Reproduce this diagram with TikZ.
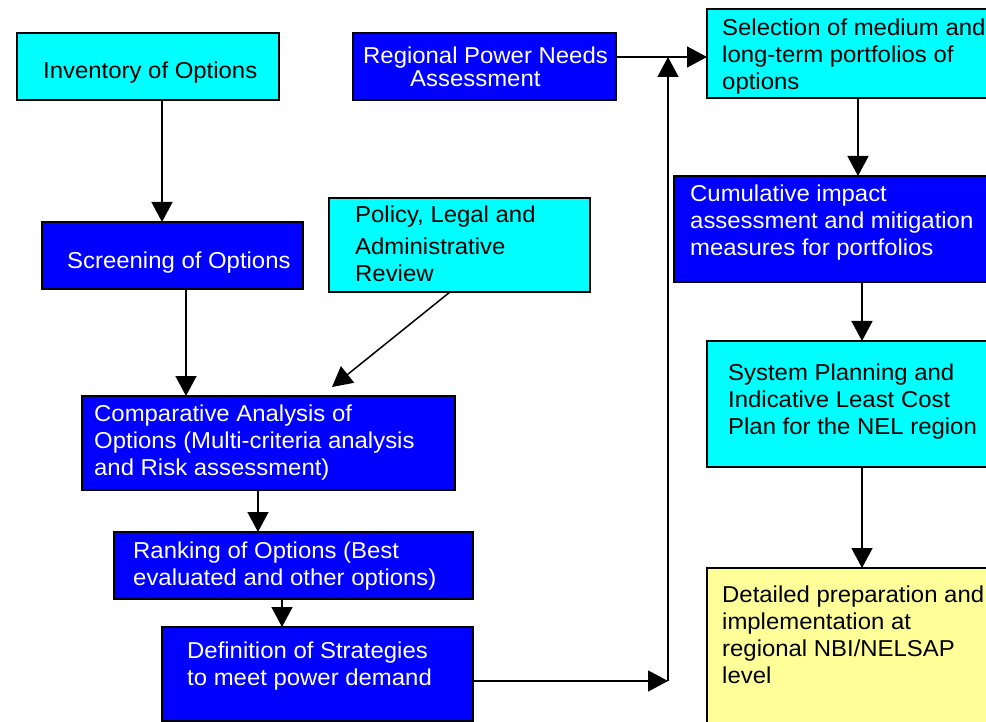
\documentclass[tikz,border=0pt]{standalone}
\usepackage{fontspec}
\setmainfont{Liberation Sans}[FakeStretch=1.04]
\usetikzlibrary{arrows.meta}
\definecolor{cyanbox}{RGB}{0,255,255}
\definecolor{bluebox}{RGB}{0,0,255}
\definecolor{yellowbox}{RGB}{255,255,153}
\begin{document}
\begin{tikzpicture}[x=1pt,y=-1pt,
 box/.style={draw=black,line width=2pt,inner sep=0pt,outer sep=0pt},
 cbox/.style={box,fill=cyanbox},
 bbox/.style={box,fill=bluebox},
 ybox/.style={box,fill=yellowbox},
 txt/.style={inner sep=0pt,anchor=north west,align=left,font=\fontsize{23}{27}\selectfont},
 wtxt/.style={txt,text=white},
 arr/.style={line width=1.5pt,-{Triangle[width=21pt,length=20pt]}}]
\useasboundingbox (0,0) rectangle (986,722);
\clip (0,0) rectangle (986,722);
\fill[white] (0,0) rectangle (986,722);

% boxes
\node[cbox,minimum width=262pt,minimum height=67pt] (inv) at (148,66.5) {};
\node[bbox,minimum width=261pt,minimum height=67pt] (scr) at (172.5,255.5) {};
\node[cbox,minimum width=261pt,minimum height=94pt] (pol) at (459.5,245) {};
\node[bbox,minimum width=373pt,minimum height=94pt] (cmp) at (268.5,443) {};
\node[bbox,minimum width=359pt,minimum height=67pt] (rank) at (293.5,565.5) {};
\node[bbox,minimum width=311pt,minimum height=94pt] (def) at (317.5,674) {};
\node[bbox,minimum width=263pt,minimum height=67pt] (reg) at (484.5,66.5) {};
\node[cbox,minimum width=293pt,minimum height=89pt] (sel) at (853.5,53.5) {};
\node[bbox,minimum width=326pt,minimum height=106pt] (cum) at (837,229) {};
\node[cbox,minimum width=293pt,minimum height=126pt] (sys) at (853.5,404) {};
\node[ybox,minimum width=293pt,minimum height=172pt] (det) at (853.5,654) {};

% texts
\node[txt] (tinv) at (43,59.1) {\strut Inventory of Options};
\node[wtxt] (tscr) at (67,249.1) {\strut Screening of Options};
\node[txt] (tpol) at (355,203.1) {\strut Policy, Legal and\\[5pt]Administrative\\Review};
\node[wtxt] (tcmp) at (94,402.1) {\strut Comparative Analysis of\\Options (Multi-criteria analysis\\and Risk assessment)};
\node[wtxt] (trank) at (133,539.1) {\strut Ranking of Options (Best\\evaluated and other options)};
\node[wtxt] (tdef) at (187,639.1) {\strut Definition of Strategies\\to meet power demand};
\node[wtxt] (treg) at (363,44.1) {\strut Regional Power Needs\\[-4pt]\hspace*{47pt}Assessment};
\node[txt] (tsel) at (722,16.1) {\strut Selection of medium and\\long-term portfolios of\\options};
\node[wtxt] (tcum) at (690,182.1) {\strut Cumulative impact\\assessment and mitigation\\measures for portfolios};
\node[txt] (tsys) at (728,361.1) {\strut System Planning and\\Indicative Least Cost\\Plan for the NEL region};
\node[txt] (tdet) at (722,583.1) {\strut Detailed preparation and\\implementation at\\regional NBI/NELSAP\\level};

% junctions
\coordinate (jtop) at (668,57);
\coordinate (jbot) at (668,681);

% connectors
\draw[arr] ([xshift=14pt]inv.south) -- ([xshift=-10.5pt]scr.north);
\draw[arr] ([xshift=13.5pt]scr.south) -- ([xshift=-82.5pt]cmp.north);
\draw[arr] ([xshift=-9.5pt]pol.south) -- ([xshift=63.5pt,yshift=9pt]cmp.north);
\draw[arr] ([xshift=-10.5pt]cmp.south) -- ([xshift=-35.5pt]rank.north);
\draw[arr] ([xshift=-11.5pt]rank.south) -- ([xshift=-35.5pt]def.north);
\draw[arr] (def.east |- jbot) -- (jbot);
\draw[arr] (jbot) -- (jtop);
\draw[arr] (reg.east |- jtop) -- (sel.west |- jtop);
\draw[arr] ([xshift=4.5pt]sel.south) -- ([xshift=21pt]cum.north);
\draw[arr] ([xshift=25pt]cum.south) -- ([xshift=8.5pt]sys.north);
\draw[arr] ([xshift=8.5pt]sys.south) -- ([xshift=8.5pt]det.north);
\end{tikzpicture}
\end{document}
